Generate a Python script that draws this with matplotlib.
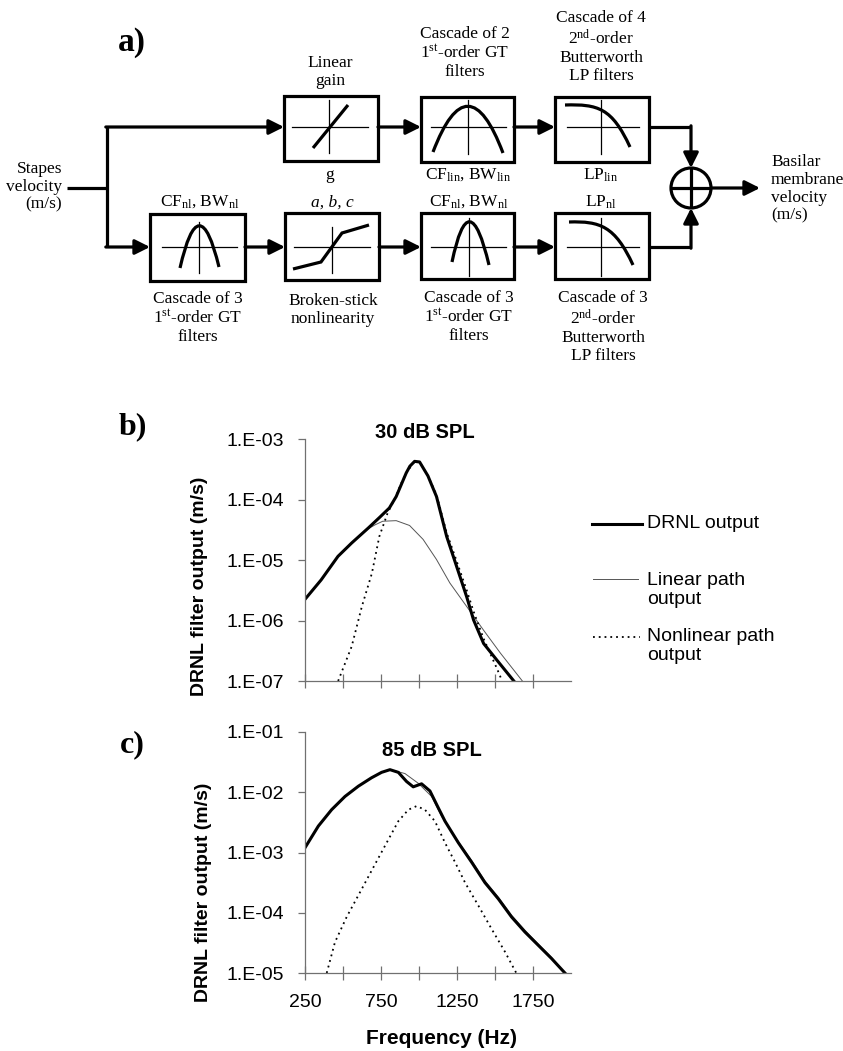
import numpy as np
import matplotlib
matplotlib.use("Agg")
import matplotlib.pyplot as plt
from matplotlib.path import Path
from matplotlib.patches import PathPatch, Rectangle, Circle
from matplotlib.ticker import FixedLocator, FuncFormatter, NullLocator

plt.rcParams['mathtext.fontset'] = 'custom'
plt.rcParams['mathtext.rm'] = 'Liberation Serif'
plt.rcParams['mathtext.it'] = 'Liberation Serif:italic'

# ---- panel b) 30 dB SPL ----
freq_b_drnl = [250, 356, 467, 557, 667, 739, 805, 850, 916, 940, 971, 1004, 1059, 1085,
               1115, 1182, 1248, 1314, 1359, 1425, 1514, 1624]
val_b_drnl = [2.24e-6, 4.68e-6, 1.15e-5, 1.91e-5, 3.39e-5, 5.01e-5, 7.24e-5, 1.12e-4, 2.75e-4,
              3.55e-4, 4.27e-4, 4.17e-4, 2.45e-4, 1.70e-4, 1.12e-4, 2.45e-5, 7.76e-6, 2.45e-6,
              1.02e-6, 4.17e-7, 2.19e-7, 1.0e-7]
freq_b_lin = [250, 356, 467, 557, 667, 710, 761, 850, 938, 1027, 1115, 1203, 1314, 1425,
              1536, 1624, 1680]
val_b_lin = [2.24e-6, 4.68e-6, 1.15e-5, 1.91e-5, 3.3e-5, 3.8e-5, 4.37e-5, 4.47e-5, 3.72e-5,
             2.19e-5, 1.02e-5, 4.17e-6, 1.70e-6, 6.9e-7, 2.88e-7, 1.51e-7, 1.0e-7]
freq_b_nl = [468, 557, 624, 690, 739, 794, 839, 880, 916, 971, 1004, 1059, 1115, 1182,
             1248, 1314, 1359, 1425, 1514, 1547]
val_b_nl = [1.0e-7, 3.72e-7, 1.70e-6, 6.03e-6, 2.45e-5, 6.03e-5, 1.0e-4, 1.78e-4, 2.75e-4,
            4.27e-4, 4.17e-4, 2.45e-4, 1.2e-4, 2.82e-5, 9.55e-6, 3.16e-6, 1.41e-6, 5.01e-7,
            1.58e-7, 1.0e-7]

# ---- panel c) 85 dB SPL ----
freq_c_drnl = [250, 338, 425, 513, 601, 688, 754, 809, 864, 918, 962, 1017, 1072, 1127,
               1171, 1259, 1346, 1434, 1522, 1609, 1697, 1785, 1872, 1960]
val_c_drnl = [1.20e-3, 2.75e-3, 5.13e-3, 8.51e-3, 1.26e-2, 1.74e-2, 2.14e-2, 2.37e-2, 2.14e-2,
              1.51e-2, 1.23e-2, 1.38e-2, 1.05e-2, 5.50e-3, 3.31e-3, 1.45e-3, 6.92e-4, 3.16e-4,
              1.70e-4, 8.51e-5, 4.79e-5, 2.88e-5, 1.74e-5, 1.0e-5]
freq_c_lin = [250, 338, 425, 513, 601, 688, 754, 809, 864, 908, 995, 1083, 1149, 1259, 1346,
              1434, 1522, 1609, 1697, 1785, 1872, 1960]
val_c_lin = [1.20e-3, 2.75e-3, 5.13e-3, 8.51e-3, 1.26e-2, 1.74e-2, 2.14e-2, 2.37e-2, 2.19e-2,
             2.04e-2, 1.41e-2, 8.51e-3, 3.98e-3, 1.51e-3, 7.41e-4, 3.39e-4, 1.82e-4, 9.12e-5,
             5.13e-5, 3.02e-5, 1.82e-5, 1.0e-5]
freq_c_nl = [393, 447, 524, 612, 699, 787, 864, 930, 984, 1039, 1105, 1171, 1237, 1303,
             1390, 1478, 1566, 1640]
val_c_nl = [1.0e-5, 3.24e-5, 8.51e-5, 2.19e-4, 5.62e-4, 1.45e-3, 3.31e-3, 5.13e-3, 5.89e-3,
            5.13e-3, 3.31e-3, 1.45e-3, 6.92e-4, 3.16e-4, 1.32e-4, 5.37e-5, 2.24e-5, 1.0e-5]

x_ticks = [250, 500, 750, 1000, 1250, 1500, 1750]
x_labels = ['250', '', '750', '', '1250', '', '1750']

W, H = 843, 1051
fig = plt.figure(figsize=(W / 100, H / 100), dpi=100)
SANS = 'Liberation Sans'
SERIF = 'Liberation Serif'


def px_axes(x0, y0, x1, y1):
    return fig.add_axes([x0 / W, 1 - y1 / H, (x1 - x0) / W, (y1 - y0) / H])


def setup(ax, ylo, yhi, show_x):
    ax.set_yscale('log')
    ax.set_xlim(250, 2000)
    ax.set_ylim(ylo, yhi)
    for s in ['top', 'right']:
        ax.spines[s].set_visible(False)
    for s in ['left', 'bottom']:
        ax.spines[s].set_color('#707070')
        ax.spines[s].set_linewidth(0.9)
    decades = [10.0 ** k for k in range(int(round(np.log10(ylo))), int(round(np.log10(yhi))) + 1)]
    ax.yaxis.set_major_locator(FixedLocator(decades))
    ax.yaxis.set_minor_locator(NullLocator())
    ax.yaxis.set_major_formatter(FuncFormatter(lambda v, p: '1.E-%02d' % round(-np.log10(v))))
    ax.xaxis.set_major_locator(FixedLocator(x_ticks))
    ax.xaxis.set_major_formatter(FuncFormatter(lambda v, p: x_labels[p] if show_x else ''))
    ax.tick_params(axis='y', direction='out', length=5, width=0.9, color='#707070',
                   labelsize=14, pad=10)
    ax.tick_params(axis='x', direction='inout', length=10, width=0.9, color='#707070',
                   labelsize=14, pad=10)
    for lab in ax.get_xticklabels() + ax.get_yticklabels():
        lab.set_fontfamily(SANS)


def curves(ax, fd, vd, fl, vl, fn, vn):
    ax.plot(fl, vl, color='#555555', lw=0.7)
    ax.plot(fn, vn, color='black', lw=1.3, ls=(0, (1, 2.2)))
    ax.plot(fd, vd, color='black', lw=2.2)


axb = px_axes(305, 439, 571, 681)
setup(axb, 1e-7, 1e-3, False)
curves(axb, freq_b_drnl, val_b_drnl, freq_b_lin, val_b_lin, freq_b_nl, val_b_nl)

axc = px_axes(305, 732, 571, 973)
setup(axc, 1e-5, 1e-1, True)
curves(axc, freq_c_drnl, val_c_drnl, freq_c_lin, val_c_lin, freq_c_nl, val_c_nl)

# ---- overlay in pixel coordinates: diagram, labels, legend ----
ov = fig.add_axes([0, 0, 1, 1], zorder=10)
ov.patch.set_alpha(0)
ov.set_xlim(0, W)
ov.set_ylim(H, 0)
ov.axis('off')

LW = 2.3


def line(pts, lw=LW, **kw):
    xs, ys = zip(*pts)
    ov.plot(xs, ys, color='black', lw=lw, solid_capstyle='butt', solid_joinstyle='miter', **kw)


def arrow(x0, y0, x1, y1):
    ov.annotate('', xy=(x1, y1), xytext=(x0, y0),
                arrowprops=dict(arrowstyle='-|>,head_length=0.9,head_width=0.45', lw=LW,
                                color='black', shrinkA=0, shrinkB=0))


def box(x0, y0, x1, y1, cx, cy, ax0, ax1, vy0, vy1):
    ov.add_patch(Rectangle((x0, y0), x1 - x0, y1 - y0, fill=False, lw=LW, ec='black'))
    ov.plot([ax0, ax1], [cy, cy], color='black', lw=0.9)
    ov.plot([cx, cx], [vy0, vy1], color='black', lw=0.9)


def bezier(pts, codes):
    ov.add_patch(PathPatch(Path(pts, codes), fill=False, lw=LW, ec='black', capstyle='butt'))


Q = [Path.MOVETO, Path.CURVE3, Path.CURVE3]
C4 = [Path.MOVETO, Path.CURVE4, Path.CURVE4, Path.CURVE4]

# input
line([(67, 188), (107, 188)])
line([(107, 127), (107, 247)])
arrow(105.8, 127, 284, 127)
arrow(105.8, 247, 150, 247)

# linear gain box
box(284, 96, 378, 161, 329, 127, 292, 368, 100, 153)
line([(313, 148), (348, 105)])
arrow(378, 127, 421, 127)
# GT lin box
box(421, 97, 514, 162, 468, 127, 431, 506, 100, 154)
bezier([(433, 152), (468, 60), (503, 153)], Q)
arrow(514, 127, 555, 127)
# LP lin box
box(555, 97, 649, 162, 601, 127, 567, 639, 100, 154)
bezier([(565, 105), (598, 104), (612, 108), (630, 147)], C4)
line([(649, 127), (691, 127)])
arrow(691, 125.8, 691, 168)

# nonlinear path boxes
box(150, 214, 245, 281, 199, 247, 162, 237, 222, 273)
bezier([(180, 268), (199, 184), (219, 267)], Q)
arrow(245, 247, 285, 247)
box(285, 213, 379, 280, 332, 247, 294, 370, 227, 273)
line([(293, 269), (321, 262), (342, 233), (369, 225)])
arrow(379, 247, 421, 247)
box(421, 213, 514, 279, 469, 247, 431, 506, 218, 276)
bezier([(452, 262), (469, 180), (489, 265)], Q)
arrow(514, 247, 555, 247)
box(555, 213, 649, 279, 601, 247, 567, 639, 218, 276)
bezier([(569, 222), (600, 221), (615, 226), (633, 265)], C4)
line([(649, 247), (691, 247)])
arrow(691, 248.2, 691, 208)

# summation node
ov.add_patch(Circle((691, 188), 20, fill=False, lw=LW, ec='black'))
line([(671, 188), (711, 188)])
line([(691, 168), (691, 208)])
arrow(711, 188, 760, 188)

tk = dict(family=SERIF, fontsize=12.5, ha='center', va='center', linespacing=1.15)
ov.text(132, 43, 'a)', family=SERIF, fontsize=24, fontweight='bold', ha='center', va='center')
ov.text(62, 187, 'Stapes\nvelocity\n(m/s)', ha='right', va='center', multialignment='right',
        family=SERIF, fontsize=12.5, linespacing=1.15)
ov.text(330, 72, 'Linear\ngain', **tk)
ov.text(330, 175, 'g', **tk)
ov.text(200, 202, r'CF$_{\rm nl}$, BW$_{\rm nl}$', **tk)
ov.text(198, 318, 'Cascade of 3\n1$^{\\rm st}$-order GT\nfilters', **tk)
ov.text(332, 203, 'a, b, c', family=SERIF, fontsize=12.5, style='italic', ha='center', va='center')
ov.text(333, 310, 'Broken-stick\nnonlinearity', **tk)
ov.text(465, 53, 'Cascade of 2\n1$^{\\rm st}$-order GT\nfilters', **tk)
ov.text(468, 175, r'CF$_{\rm lin}$, BW$_{\rm lin}$', **tk)
ov.text(601, 47, 'Cascade of 4\n2$^{\\rm nd}$-order\nButterworth\nLP filters', **tk)
ov.text(601, 175, r'LP$_{\rm lin}$', **tk)
ov.text(469, 202, r'CF$_{\rm nl}$, BW$_{\rm nl}$', **tk)
ov.text(469, 317, 'Cascade of 3\n1$^{\\rm st}$-order GT\nfilters', **tk)
ov.text(601, 202, r'LP$_{\rm nl}$', **tk)
ov.text(603, 327, 'Cascade of 3\n2$^{\\rm nd}$-order\nButterworth\nLP filters', **tk)
ov.text(771, 189, 'Basilar\nmembrane\nvelocity\n(m/s)', ha='left', va='center',
        family=SERIF, fontsize=12.5, linespacing=1.15)

# panel labels and titles
ov.text(133, 427, 'b)', family=SERIF, fontsize=23, fontweight='bold', ha='center', va='center')
ov.text(132, 745, 'c)', family=SERIF, fontsize=23, fontweight='bold', ha='center', va='center')
ov.text(425, 433, '30 dB SPL', family=SANS, fontsize=14.5, fontweight='bold', ha='center', va='center')
ov.text(432, 750, '85 dB SPL', family=SANS, fontsize=14.5, fontweight='bold', ha='center', va='center')
ov.text(200, 586, 'DRNL filter output (m/s)', family=SANS, fontsize=14, fontweight='bold',
        rotation=90, ha='center', va='center')
ov.text(203, 892, 'DRNL filter output (m/s)', family=SANS, fontsize=14, fontweight='bold',
        rotation=90, ha='center', va='center')
ov.text(441, 1038, 'Frequency (Hz)', family=SANS, fontsize=15, fontweight='bold',
        ha='center', va='center')

# legend
ov.plot([592, 642], [524, 524], color='black', lw=2.2)
ov.plot([593, 638], [579, 579], color='#555555', lw=0.7)
ov.plot([593, 640], [637, 637], color='black', lw=1.3, ls=(0, (1, 2.2)))
lk = dict(family=SANS, fontsize=14, ha='left', va='center', linespacing=1.15)
ov.text(647, 523, 'DRNL output', **lk)
ov.text(647, 590, 'Linear path\noutput', **lk)
ov.text(647, 646, 'Nonlinear path\noutput', **lk)

fig.savefig('out.png', dpi=100)
